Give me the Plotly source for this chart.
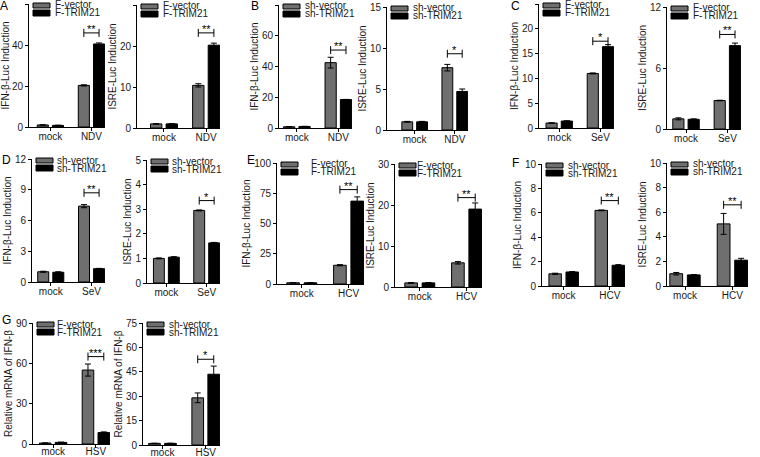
import plotly.graph_objects as go

# ---------------- data ----------------
panel_letters = ["A", "", "B", "", "C", "", "D", "", "E", "", "F", "", "G", ""]
y_titles = ["IFN-β-Luc Induction", "ISRE-Luc Induction",
            "IFN-β-Luc Induction", "ISRE-Luc Induction",
            "IFN-β-Luc Induction", "ISRE-Luc Induction",
            "IFN-β-Luc Induction", "ISRE-Luc Induction",
            "IFN-β-Luc Induction", "ISRE-Luc Induction",
            "IFN-β-Luc Induction", "ISRE-Luc Induction",
            "Relative mRNA of IFN-β", "Relative mRNA of IFN-β"]
virus = ["NDV", "NDV", "NDV", "NDV", "SeV", "SeV", "SeV", "SeV",
         "HCV", "HCV", "HCV", "HCV", "HSV", "HSV"]
ctrl_names = ["F-vector", "F-vector", "sh-vector", "sh-vector", "F-vector", "F-vector",
              "sh-vector", "sh-vector", "F-vector", "F-vector", "sh-vector", "sh-vector",
              "F-vector", "sh-vector"]
trim_names = ["F-TRIM21", "F-TRIM21", "sh-TRIM21", "sh-TRIM21", "F-TRIM21", "F-TRIM21",
              "sh-TRIM21", "sh-TRIM21", "F-TRIM21", "F-TRIM21", "sh-TRIM21", "sh-TRIM21",
              "F-TRIM21", "sh-TRIM21"]
ctrl_mock = [1.0, 1.0, 0.8, 1.0, 1.0, 1.0, 1.0, 1.0, 1.0, 1.0, 1.0, 1.0, 0.7, 1.0]
trim_mock = [0.8, 1.0, 1.0, 1.0, 1.4, 0.95, 0.95, 1.05, 1.0, 1.0, 1.15, 0.9, 1.2, 1.0]
ctrl_mock_err = [0.1, 0.05, 0.1, 0.05, 0.05, 0.1, 0.05, 0.02, 0.1, 0.1, 0.05, 0.1, 0.1, 0.1]
trim_mock_err = [0.1, 0.05, 0.1, 0.05, 0.05, 0.05, 0.05, 0.02, 0.1, 0.1, 0.03, 0.03, 0.2, 0.1]
ctrl_virus = [20.3, 10.4, 42.5, 7.6, 11.0, 2.8, 7.4, 2.95, 15.5, 5.9, 6.2, 5.05, 55.0, 29.0]
trim_virus = [40.5, 20.2, 18.5, 4.7, 16.4, 8.2, 1.3, 1.63, 68.5, 19.0, 1.7, 2.1, 8.5, 43.5]
ctrl_virus_err = [0.3, 0.4, 3.5, 0.4, 0.1, 0.03, 0.15, 0.02, 0.5, 0.3, 0.03, 0.85, 4.5, 3.0]
trim_virus_err = [0.5, 0.5, 0.1, 0.3, 0.4, 0.25, 0.03, 0.02, 3.5, 1.5, 0.05, 0.15, 0.5, 5.0]
sig_labels = ["**", "**", "**", "*", "*", "**", "**", "*", "**", "**", "**", "**", "***", "*"]
sig_y = [45.9, 23.2, 50.7, 9.3, 17.5, 9.3, 8.7, 3.35, 78.0, 21.8, 7.0, 6.6, 65.0, 52.7]
y_max = [60, 30, 80, 15, 25, 12, 12, 5, 100, 30, 10, 10, 90, 75]
y_dtick = [20, 10, 20, 5, 5, 6, 3, 1, 25, 10, 2, 2, 30, 15]

# ---------------- layout (pixels) ----------------
W, H = 760, 457
# x_left, x_right, y_top, y_bottom
boxes = [(29, 105, 4, 127), (137, 220, 5, 128), (279, 352, 5, 128), (387, 468, 7, 130),
         (539, 614, 4, 128), (667, 741, 7, 129), (32, 105, 159, 282), (147, 220, 160, 283),
         (277, 364, 163, 284), (395, 482, 164, 287), (542, 625, 164, 286), (667, 748, 163, 286),
         (33, 110, 323, 444), (143, 220, 323, 445)]
x_lo = [-0.52, -0.64, -0.43, -0.69, -0.49, -0.46, -0.46, -0.48, -0.53, -0.53, -0.47, -0.38, -0.47, -0.45]
x_hi = 1.33
letter_pos = [(4, 6), None, (255, 6), None, (515, 6), None, (6, 160), None, (251, 160), None,
              (515, 163), None, (6, 320), None]
legend_text_dx = [24, 24, 24, 24, 24, 24, 23, 23, 32, 20, 24, 24, 22, 24]
xlabel_standoff = [-3] * 12 + [-5, -5]

OFF = 0.185
BW = 0.27
GRAY = "#6f6f6f"
FONT = "Liberation Sans, Arial, sans-serif"
TXT = "#1a1a1a"

fig = go.Figure()
layout = dict(template="none", width=W, height=H, margin=dict(l=0, r=0, t=0, b=0, autoexpand=False),
              paper_bgcolor="white", plot_bgcolor="white", showlegend=False,
              font=dict(family=FONT, size=10, color=TXT), bargap=0)
shapes, annotations = [], []

for i in range(14):
    n = i + 1
    xs = "x" if n == 1 else f"x{n}"
    ys = "y" if n == 1 else f"y{n}"
    xl, xr, yt, yb = boxes[i]
    cats = ["mock", virus[i]]
    fig.add_bar(x=[0 - OFF, 1 - OFF], y=[ctrl_mock[i], ctrl_virus[i]], width=BW,
                marker=dict(color=GRAY, line=dict(color="black", width=1)),
                error_y=dict(type="data", array=[ctrl_mock_err[i], ctrl_virus_err[i]],
                             color="black", thickness=1, width=3),
                xaxis=xs, yaxis=ys, name=ctrl_names[i])
    fig.add_bar(x=[0 + OFF, 1 + OFF], y=[trim_mock[i], trim_virus[i]], width=BW,
                marker=dict(color="black", line=dict(color="black", width=1)),
                error_y=dict(type="data", array=[trim_mock_err[i], trim_virus_err[i]],
                             color="black", thickness=1, width=3),
                xaxis=xs, yaxis=ys, name=trim_names[i])
    layout["xaxis" if n == 1 else f"xaxis{n}"] = dict(
        domain=[xl / W, xr / W], anchor=ys, range=[x_lo[i], x_hi], automargin=False,
        tickmode="array", tickvals=[0, 1], ticktext=cats,
        showline=True, linecolor="black", linewidth=1, ticks="outside", ticklen=3,
        tickcolor="black", showgrid=False, zeroline=False, ticklabelstandoff=xlabel_standoff[i],
        tickfont=dict(size=10, color=TXT, family=FONT), fixedrange=True)
    layout["yaxis" if n == 1 else f"yaxis{n}"] = dict(
        domain=[1 - yb / H, 1 - yt / H], anchor=xs, range=[0, y_max[i]], dtick=y_dtick[i],
        automargin=False,
        showline=True, linecolor="black", linewidth=1, ticks="outside", ticklen=3,
        tickcolor="black", showgrid=False, zeroline=False,
        tickfont=dict(size=10, color=TXT, family=FONT),
        title=dict(text=y_titles[i], font=dict(size=10, color=TXT, family=FONT), standoff=1))

    # significance bracket
    shapes.append(dict(type="line", xref=xs, yref=ys, x0=1 - OFF, x1=1 + OFF,
                       y0=sig_y[i], y1=sig_y[i], line=dict(color="black", width=1)))
    for xx in (1 - OFF, 1 + OFF):
        shapes.append(dict(type="line", xref=xs, yref=ys, x0=xx, x1=xx,
                           ysizemode="pixel", yanchor=sig_y[i], y0=-4, y1=4,
                           line=dict(color="black", width=1)))
    annotations.append(dict(text=sig_labels[i], xref=xs, yref=ys, x=1, y=sig_y[i],
                            xanchor="center", yanchor="bottom", yshift=-4, showarrow=False,
                            font=dict(size=11, color="black", family=FONT)))

    # legend (manual)
    xd = f"{xs} domain"
    yd = f"{ys} domain"
    shapes.append(dict(type="rect", xref=xd, yref=yd, xsizemode="pixel", ysizemode="pixel",
                       xanchor=0, yanchor=1, x0=4, x1=21, y0=1, y1=-4,
                       fillcolor=GRAY, line=dict(color="black", width=1)))
    shapes.append(dict(type="rect", xref=xd, yref=yd, xsizemode="pixel", ysizemode="pixel",
                       xanchor=0, yanchor=1, x0=4, x1=21, y0=-6, y1=-12,
                       fillcolor="black", line=dict(color="black", width=1)))
    annotations.append(dict(text=ctrl_names[i], xref=xd, yref=yd, x=0, y=1,
                            xanchor="left", yanchor="middle", xshift=legend_text_dx[i],
                            yshift=-1, showarrow=False, font=dict(size=10, color=TXT)))
    annotations.append(dict(text=trim_names[i], xref=xd, yref=yd, x=0, y=1,
                            xanchor="left", yanchor="middle", xshift=legend_text_dx[i],
                            yshift=-9, showarrow=False, font=dict(size=10, color=TXT)))

    if panel_letters[i]:
        lx, ly = letter_pos[i]
        annotations.append(dict(text=panel_letters[i], xref="paper", yref="paper",
                                x=lx / W, y=1 - ly / H, xanchor="center", yanchor="middle",
                                showarrow=False, font=dict(size=12, color="black", family=FONT)))

layout["shapes"] = shapes
layout["annotations"] = annotations
fig.update_layout(**layout)
fig.write_html("out.html", config={"displayModeBar": False, "staticPlot": True},
               post_script="document.body.style.margin='0';document.body.style.overflow='hidden';")
